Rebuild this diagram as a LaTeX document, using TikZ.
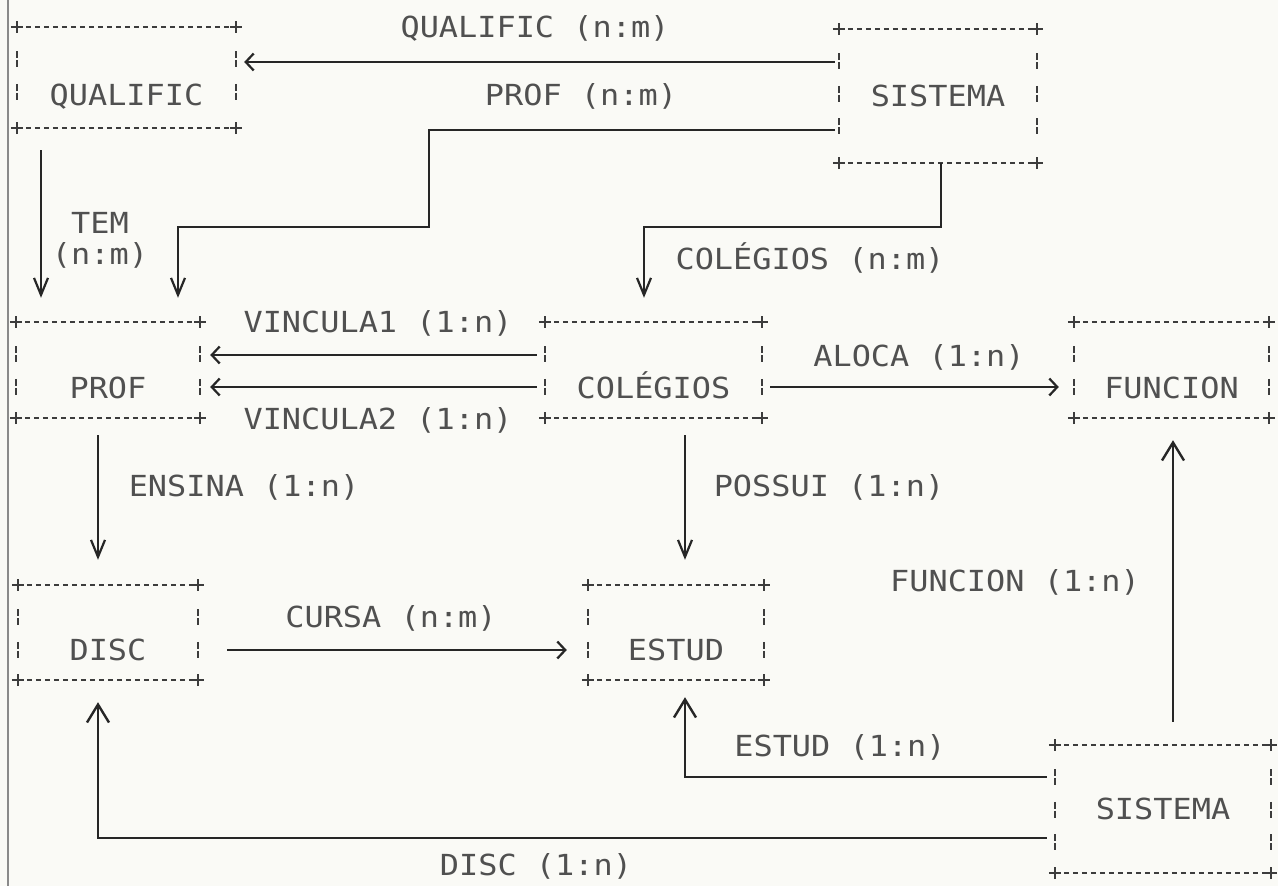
\documentclass[tikz,border=0pt]{standalone}
\usepackage{fontspec}
\setmonofont[FakeStretch=1.1]{DejaVu Sans Mono}
\usepackage{tikz}
\usetikzlibrary{arrows.meta,positioning,calc}
\definecolor{pp}{HTML}{FAFAF6}
\definecolor{ink}{HTML}{262626}
\definecolor{tx}{HTML}{505050}
\definecolor{bx}{HTML}{3C3C3C}
\definecolor{edge}{HTML}{8A8A8A}
\tikzset{
  ent/.style={inner sep=0pt, font=\ttfamily\fontsize{29}{31}\selectfont, text=tx,
    text height=56pt, text depth=0pt},
  entc/.style={ent, text height=21pt},
  rel/.style={inner sep=0pt, font=\ttfamily\fontsize{29}{31}\selectfont, text=tx},
  hedge/.style={draw=bx, line width=1.8pt, dash pattern=on 5.5pt off 3.5pt},
  vedge/.style={draw=bx, line width=2.2pt, dash pattern=on 7pt off 2pt on 7pt off 16.5pt,
    dash phase=24pt},
  conn/.style={draw=ink, line width=2.8pt},
  hconn/.style={conn, -{Straight Barb[length=8pt,width=17pt,line width=2.2pt]}},
  dconn/.style={conn, -{Straight Barb[length=17pt,width=14pt,line width=2.2pt]}},
  uconn/.style={conn, -{Straight Barb[length=18pt,width=22pt,line width=2.4pt]}},
  corner/.pic={\draw[draw=bx, line width=1.8pt] (-6pt,0pt) -- (6pt,0pt) (0pt,-6pt) -- (0pt,6pt);}
}

\begin{document}
\begin{tikzpicture}[x=1pt,y=-1pt]
  \fill[pp] (0,0) rectangle (1278,886);
  \useasboundingbox (0,0) rectangle (1278,886);
  \draw[edge, line width=1.5pt] (8,0) -- (8,886);

  \node[ent, minimum width=219pt, minimum height=101pt] (qual) at (126.5,77.5) {QUALIFIC};
  \node[entc, minimum width=198pt, minimum height=134pt] (sisA) at (938,96) {SISTEMA};
  \node[ent, minimum width=184pt, minimum height=96pt] (prof) at (108,370) {PROF};
  \node[ent, minimum width=217pt, minimum height=96pt] (coleg) at (653.5,370) {COLÉGIOS};
  \node[ent, minimum width=195pt, minimum height=96pt] (func) at (1171.5,370) {FUNCION};
  \node[ent, minimum width=180pt, minimum height=95pt] (disc) at (108,632.5) {DISC};
  \node[ent, minimum width=176pt, minimum height=95pt] (estud) at (676,632.5) {ESTUD};
  \node[entc, minimum width=216pt, minimum height=128pt] (sisB) at (1163,809) {SISTEMA};

  \foreach \b in {qual,sisA,prof,coleg,func,disc,estud,sisB}{
    \draw[hedge] (\b.north west) -- (\b.north east) (\b.south west) -- (\b.south east);
    \draw[vedge] ([yshift=-16pt]\b.north west) -- ([yshift=16pt]\b.south west)
                 ([yshift=-16pt]\b.north east) -- ([yshift=16pt]\b.south east);
    \foreach \c in {north west,north east,south west,south east}
      \pic at (\b.\c) {corner};
  }

  % upper relations
  \draw[hconn, shorten <=4pt, shorten >=8pt] ([yshift=34pt]sisA.west) -- ([yshift=34pt]sisA.west -| qual.east);
  \node[rel] (lQual) at (535,28) {QUALIFIC (n:m)};

  \coordinate (kP) at (429,227);
  \draw[dconn, shorten <=4pt, shorten >=24pt] ([yshift=-34pt]sisA.west) -| (kP) -| ([xshift=70pt]prof.north);
  \node[rel] (lProf) at (581,96) {PROF (n:m)};

  \draw[dconn, shorten <=22pt, shorten >=24pt] ([xshift=-85.5pt]qual.south) -- ([xshift=-85.5pt]qual.south |- prof.north);
  \node[rel, align=center] (lTem) at (100,240) {TEM\\(n:m)};

  \draw[dconn, shorten >=24pt] ([xshift=3pt]sisA.south) |- ([xshift=-9.5pt]coleg.north |- kP) -- ([xshift=-9.5pt]coleg.north);
  \node[rel] (lColeg) at (810,258) {COLÉGIOS (n:m)};

  % middle relations
  \draw[hconn, shorten <=8pt, shorten >=10pt] ([yshift=15pt]coleg.west) -- ([yshift=15pt]coleg.west -| prof.east);
  \node[rel] (lVinc1) at (378,323) {VINCULA1 (1:n)};
  \draw[hconn, shorten <=8pt, shorten >=10pt] ([yshift=-17pt]coleg.west) -- ([yshift=-17pt]coleg.west -| prof.east);
  \node[rel] (lVinc2) at (378,420) {VINCULA2 (1:n)};

  \draw[hconn, shorten <=8pt, shorten >=15pt] ([yshift=-17pt]coleg.east) -- ([yshift=-17pt]coleg.east -| func.west);
  \node[rel] (lAloca) at (919,357) {ALOCA (1:n)};

  \draw[dconn, shorten <=17pt, shorten >=25pt] ([xshift=-10pt]prof.south) -- ([xshift=-10pt]prof.south |- disc.north);
  \node[rel] (lEnsina) at (244,487) {ENSINA (1:n)};

  \draw[dconn, shorten <=17pt, shorten >=25pt] ([xshift=31.5pt]coleg.south) -- ([xshift=31.5pt]coleg.south |- estud.north);
  \node[rel] (lPossui) at (829,487) {POSSUI (1:n)};

  % lower relations
  \draw[hconn, shorten <=29pt, shorten >=21pt] ([yshift=-17.5pt]disc.east) -- ([yshift=-17.5pt]disc.east -| estud.west);
  \node[rel] (lCursa) at (391,618) {CURSA (n:m)};

  \draw[uconn, shorten <=23pt, shorten >=22pt] ([xshift=10pt]sisB.north) -- ([xshift=10pt]sisB.north |- func.south);
  \node[rel] (lFuncion) at (1015,582) {FUNCION (1:n)};

  \draw[uconn, shorten <=8pt, shorten >=17pt] ([yshift=32pt]sisB.west) -| ([xshift=9pt]estud.south);
  \node[rel] (lEstud) at (840,747) {ESTUD (1:n)};

  \draw[uconn, shorten <=8pt, shorten >=22pt] ([yshift=-29pt]sisB.west) -| ([xshift=-10pt]disc.south);
  \node[rel] (lDisc) at (536,866) {DISC (1:n)};
\end{tikzpicture}
\end{document}
